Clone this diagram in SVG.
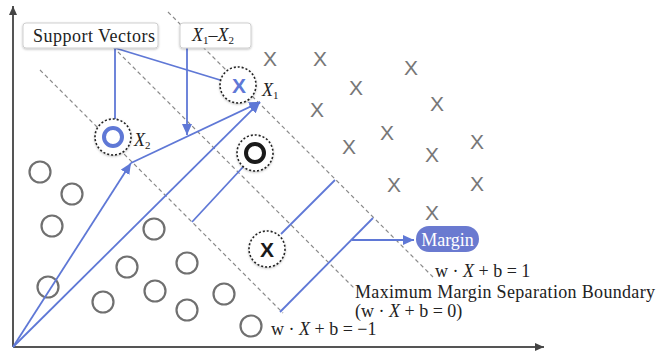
<svg xmlns="http://www.w3.org/2000/svg" width="657" height="357" viewBox="0 0 657 357">
  <defs>
    <style>
      .axis{stroke:#555;stroke-width:2;fill:none}
      .dash{stroke:#8a8a8a;stroke-width:1.2;stroke-dasharray:4 3;fill:none}
      .blue{stroke:#5f78d6;stroke-width:1.8;fill:none}
      .pt{fill:none;stroke:#707070;stroke-width:2.2}
      .xm{font-family:"Liberation Sans",Arial,sans-serif;font-size:21px;fill:#777;text-anchor:middle}
      .sv{fill:#fff;stroke:#222;stroke-width:1.6;stroke-dasharray:2 2}
      .serif{font-family:"Liberation Serif","Times New Roman",serif;font-size:18px;fill:#222}
      .it{font-style:italic}
      .box{fill:#fff;stroke:#cfcfcf;stroke-width:1}
    </style>
    <marker id="bluehead" markerUnits="userSpaceOnUse" markerWidth="12" markerHeight="10" refX="11" refY="5" orient="auto">
      <path d="M0,0 L11,5 L0,10 z" fill="#5f78d6"/>
    </marker>
    <marker id="axishead" markerUnits="userSpaceOnUse" markerWidth="10" markerHeight="8" refX="9" refY="4" orient="auto">
      <path d="M0,0 L9,4 L0,8 z" fill="#444"/>
    </marker>
    <filter id="soft" x="-30%" y="-30%" width="160%" height="160%">
      <feDropShadow dx="0" dy="1" stdDeviation="1.2" flood-color="#000" flood-opacity="0.25"/>
    </filter>
  </defs>

  <!-- axes -->
  <g id="axes">
    <line class="axis" x1="13" y1="347" x2="13" y2="6" marker-end="url(#axishead)"/>
    <line class="axis" x1="13" y1="347" x2="544" y2="347" marker-end="url(#axishead)"/>
  </g>

  <!-- hyperplanes -->
  <g id="hyperplanes">
    <line class="dash" x1="168" y1="12" x2="433" y2="277"/>
    <line class="dash" x1="113" y1="47" x2="354" y2="288"/>
    <line class="dash" x1="40" y1="70" x2="283" y2="313"/>
  </g>

  <!-- class O samples -->
  <g id="class-o">
    <circle class="pt" cx="40" cy="172" r="10.5"/>
    <circle class="pt" cx="72" cy="194" r="10.5"/>
    <circle class="pt" cx="52" cy="226" r="10.5"/>
    <circle class="pt" cx="154" cy="229" r="10.5"/>
    <circle class="pt" cx="48" cy="287" r="10.5"/>
    <circle class="pt" cx="127" cy="267" r="10.5"/>
    <circle class="pt" cx="187" cy="263" r="10.5"/>
    <circle class="pt" cx="103" cy="302" r="10.5"/>
    <circle class="pt" cx="155" cy="291" r="10.5"/>
    <circle class="pt" cx="187" cy="310" r="10.5"/>
    <circle class="pt" cx="224" cy="294" r="10.5"/>
    <circle class="pt" cx="251" cy="326" r="10.5"/>
  </g>

  <!-- class X samples -->
  <g id="class-x">
    <text class="xm" x="270" y="65.5">X</text>
    <text class="xm" x="320" y="65.5">X</text>
    <text class="xm" x="411" y="74.5">X</text>
    <text class="xm" x="356" y="94.5">X</text>
    <text class="xm" x="317" y="116.5">X</text>
    <text class="xm" x="437" y="110.5">X</text>
    <text class="xm" x="387" y="139.5">X</text>
    <text class="xm" x="349" y="153.5">X</text>
    <text class="xm" x="477" y="148.5">X</text>
    <text class="xm" x="432" y="161.5">X</text>
    <text class="xm" x="394" y="191.5">X</text>
    <text class="xm" x="477" y="190.5">X</text>
    <text class="xm" x="432" y="219.5">X</text>
  </g>

  <!-- connectors -->
  <g id="connectors">
    <line class="blue" x1="115" y1="48" x2="115" y2="119"/>
    <line class="blue" x1="115" y1="48" x2="220" y2="80"/>
    <line class="blue" x1="187" y1="48" x2="187" y2="135" marker-end="url(#bluehead)"/>
    <line class="blue" x1="13" y1="347" x2="131" y2="163" marker-end="url(#bluehead)"/>
    <line class="blue" x1="13" y1="347" x2="260" y2="102" marker-end="url(#bluehead)"/>
    <line class="blue" x1="131" y1="163" x2="260" y2="102" marker-end="url(#bluehead)"/>
    <line class="blue" x1="192" y1="222" x2="243" y2="167"/>
    <line class="blue" x1="281" y1="234" x2="335" y2="180"/>
    <line class="blue" x1="280" y1="312" x2="373" y2="218"/>
    <line class="blue" x1="352" y1="240" x2="414" y2="240" marker-end="url(#bluehead)"/>
  </g>

  <!-- support vector X2 -->
  <g id="sv-x2">
    <circle class="sv" cx="113" cy="137" r="18" filter="url(#soft)"/>
    <circle cx="113" cy="137" r="9" fill="none" stroke="#5f78d6" stroke-width="4"/>
    <text class="serif" x="134" y="146"><tspan class="it">X</tspan><tspan font-size="11" dy="3">2</tspan></text>
  </g>

  <!-- support vector X1 -->
  <g id="sv-x1">
    <circle class="sv" cx="238" cy="85" r="18" filter="url(#soft)"/>
    <text x="239" y="92.5" font-family="Liberation Sans,Arial,sans-serif" font-size="21" font-weight="bold" fill="#5f78d6" text-anchor="middle">X</text>
    <text class="serif" x="262" y="96"><tspan class="it">X</tspan><tspan font-size="11" dy="3">1</tspan></text>
  </g>

  <!-- support vector O -->
  <g id="sv-o">
    <circle class="sv" cx="255" cy="153" r="18" filter="url(#soft)"/>
    <circle cx="255" cy="153" r="9" fill="none" stroke="#1a1a1a" stroke-width="4"/>
  </g>

  <!-- support vector X -->
  <g id="sv-x">
    <circle class="sv" cx="267" cy="249" r="18" filter="url(#soft)"/>
    <text x="267" y="256.5" font-family="Liberation Sans,Arial,sans-serif" font-size="21" font-weight="bold" fill="#1a1a1a" text-anchor="middle">X</text>
  </g>

  <!-- callout boxes -->
  <g id="label-support-vectors">
    <rect class="box" x="23" y="23" width="135" height="25" rx="3" filter="url(#soft)"/>
    <text class="serif" x="33" y="41.5" textLength="122" lengthAdjust="spacing">Support Vectors</text>
  </g>
  <g id="label-x1-x2">
    <rect class="box" x="180" y="23" width="71" height="25" rx="3" filter="url(#soft)"/>
    <text class="serif" x="192" y="40.5"><tspan class="it">X</tspan><tspan font-size="11" dy="3">1</tspan><tspan dy="-3">–</tspan><tspan class="it">X</tspan><tspan font-size="11" dy="3">2</tspan></text>
  </g>

  <!-- margin tag -->
  <g id="label-margin">
    <rect x="416" y="226" width="63" height="26" rx="13" fill="#6a7ad0"/>
    <text class="serif" x="447.5" y="245.5" text-anchor="middle" style="fill:#fff">Margin</text>
  </g>

  <!-- equations -->
  <g id="label-plus">
    <text class="serif" x="435" y="277">w · <tspan class="it">X</tspan> + b = 1</text>
  </g>
  <g id="label-boundary">
    <text class="serif" x="355" y="298" textLength="300" lengthAdjust="spacing">Maximum Margin Separation Boundary</text>
    <text class="serif" x="355" y="317">(w · <tspan class="it">X</tspan> + b = 0)</text>
  </g>
  <g id="label-minus">
    <text class="serif" x="271" y="335">w · <tspan class="it">X</tspan> + b = −1</text>
  </g>
</svg>
